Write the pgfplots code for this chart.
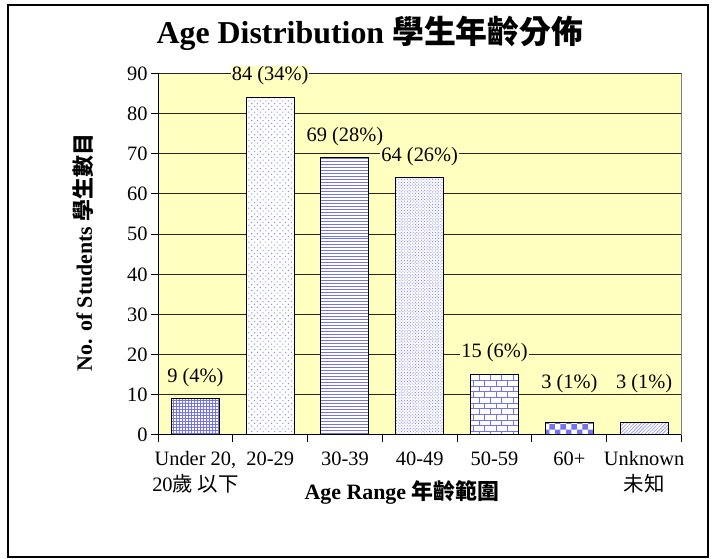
\documentclass[border=0pt]{standalone}
\usepackage{pgfplots}
\pgfplotsset{compat=1.18}
\usetikzlibrary{patterns,patterns.meta}
\usepackage{fontspec}
\setmainfont{Liberation Serif}
\newfontfamily\cjk{Noto Sans CJK TC}

\definecolor{plotyellow}{RGB}{255,255,192}
\definecolor{patA}{RGB}{115,115,240}
\definecolor{patB}{RGB}{140,140,245}

\begin{document}
\begin{tikzpicture}[x=1bp,y=1bp]
\path (0,0) rectangle (713,559);
\draw[line width=1.5bp] (8,2) rectangle (708,554);
\node[font=\fontsize{32}{36}\selectfont\bfseries] at (370,526)
  {Age Distribution {\cjk 學生年齡分佈}};

\begin{axis}[
  at={(158bp,124bp)}, anchor=south west,
  scale only axis, width=523.5bp, height=361.5bp,
  xmin=-0.5, xmax=6.5, ymin=0, ymax=90,
  ytick={0,10,...,90},
  xtick={-0.5,0.5,...,6.5},
  x tick label as interval,
  xticklabels={{Under 20,\\20{\cjk 歲 以下}},20-29,30-39,40-49,50-59,60+,{Unknown\\{\cjk 未知}}},
  xticklabel style={align=center, font=\fontsize{20.5}{26}\selectfont, yshift=-6bp},
  yticklabel style={font=\fontsize{20.5}{24}\selectfont},
  /pgf/number format/assume math mode=true,
  tick align=outside, major tick length=7bp,
  tick style={black, line width=1bp},
  axis x line*=bottom, axis y line*=left,
  axis line style={-, line width=1bp, black},
  ymajorgrids, grid style={black!85, line width=1bp},
  axis background/.style={fill=plotyellow},
  clip=false,
  xlabel={\bfseries Age Range {\cjk 年齡範圍}},
  xlabel style={font=\fontsize{22}{26}\selectfont, at={(rel axis cs:0.466,-0.160)}, anchor=center},
  ylabel={\bfseries No. of Students {\cjk 學生數目}},
  ylabel style={font=\fontsize{22}{26}\selectfont, at={(rel axis cs:-0.142,0.505)}, anchor=center},
  mybar/.style={ybar, bar width=48bp, bar shift=0pt, fill=white, draw=black, line width=1bp},
]
\addplot[mybar, postaction={pattern=grid, pattern color=patA}] coordinates {(0,9)};
\addplot[mybar, postaction={pattern={Dots[distance=4bp, radius=0.75bp, angle=45]}, pattern color=patB}] coordinates {(1,84)};
\addplot[mybar, postaction={pattern=horizontal lines, pattern color=patA}] coordinates {(2,69)};
\addplot[mybar, postaction={pattern={Dots[distance=2.2bp, radius=0.65bp, angle=45]}, pattern color=patB}] coordinates {(3,64)};
\addplot[mybar, postaction={pattern=bricks, pattern color=patA}] coordinates {(4,15)};
\addplot[mybar, postaction={pattern=checkerboard, pattern color=patA}] coordinates {(5,3)};
\addplot[mybar, postaction={pattern={Lines[angle=45, distance=2.5bp, line width=0.6bp]}, pattern color=patB}] coordinates {(6,3)};

\draw[gray, line width=1bp] (rel axis cs:1,0) -- (rel axis cs:1,1);

\begin{scope}[every node/.style={fill=plotyellow, inner sep=1bp, font=\fontsize{20.5}{24}\selectfont}]
\node at (axis cs:0,14.2) {9 (4\%)};
\node at (axis cs:1,89.4) {84 (34\%)};
\node at (axis cs:2,74.4) {69 (28\%)};
\node at (axis cs:3,69.4) {64 (26\%)};
\node at (axis cs:4,20.4) {15 (6\%)};
\node at (axis cs:5,12.7) {3 (1\%)};
\node at (axis cs:6,12.7) {3 (1\%)};
\end{scope}
\end{axis}
\end{tikzpicture}
\end{document}
